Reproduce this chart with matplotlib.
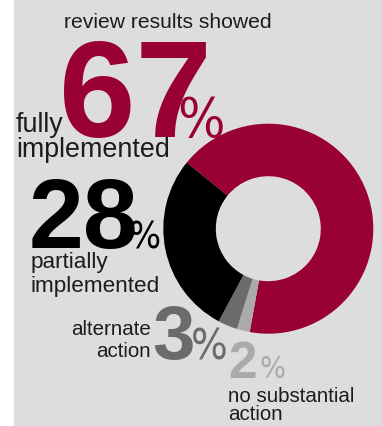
import matplotlib
matplotlib.use("Agg")
import matplotlib.pyplot as plt
from matplotlib import font_manager
from matplotlib.patches import Rectangle

# review outcome shares (percent)
categories = ["fully implemented", "no substantial action", "alternate action", "partially implemented"]
shares = [67, 2, 3, 28]
colors = ["#990033", "#aaaaaa", "#6b6b6b", "#000000"]

W, H = 382, 426
BG = "#dddddd"
INK = "#1c1c1c"
FONT = "Liberation Sans"

# a condensed face for the percent signs, if one is installed
cond = font_manager.FontProperties(family="DejaVu Sans", stretch="condensed")
HAS_COND = "Condensed" in font_manager.findfont(cond)
PCT = dict(family="DejaVu Sans", stretch="condensed") if HAS_COND else dict(family=FONT)

fig = plt.figure(figsize=(W / 100, H / 100), dpi=100)
fig.patch.set_facecolor("white")

# full-figure axes in pixel units for the text layout
ax = fig.add_axes([0, 0, 1, 1])
ax.set_xlim(0, W)
ax.set_ylim(H, 0)
ax.axis("off")
ax.add_patch(Rectangle((14, 0), W - 14, H, color=BG, zorder=0))

# donut
cx, cy, r = 268.3, 228.7, 105.0
pax = fig.add_axes([(cx - r) / W, (H - cy - r) / H, 2 * r / W, 2 * r / H])
pax.pie(shares, colors=colors, startangle=141, counterclock=False,
        wedgeprops=dict(width=0.5, linewidth=0))
pax.set_xlim(-1, 1)
pax.set_ylim(-1, 1)
pax.set_aspect("equal")
pax.axis("off")


def txt(x, y, s, size, color=INK, weight="normal", ha="left", **kw):
    font = dict(family=FONT)
    font.update(kw)
    ax.text(x, y, s, fontsize=size, color=color, fontweight=weight, ha=ha,
            va="baseline", **font)


def pct(x, y, size, color):
    txt(x, y, "%", size if HAS_COND else size * 0.78, color, **PCT)


txt(64, 28.3, "review results showed", 15.2)

# 67% fully implemented
txt(59, 136.7, str(shares[0]), 99, colors[0], "bold")
pct(177, 137, 40, colors[0])
txt(16, 131.7, "fully", 19.4)
txt(16, 156.7, "implemented", 19.4)

# 28% partially implemented
txt(29, 248.3, str(shares[3]), 71, colors[3], "bold")
pct(128, 248.3, 27, colors[3])
txt(30.5, 268.3, "partially", 16.2)
txt(30.5, 291.7, "implemented", 16.2)

# 3% alternate action
txt(151, 335, "alternate", 14.8, ha="right")
txt(151, 356.7, "action", 14.8, ha="right")
txt(152.5, 358.5, str(shares[2]), 55, colors[2], "bold")
pct(191, 359, 31, colors[2])

# 2% no substantial action
txt(228, 378, str(shares[1]), 37, colors[1], "bold")
pct(259.5, 378, 22, colors[1])
txt(228, 401.7, "no substantial", 14.8)
txt(228, 420, "action", 14.8)

fig.savefig("out.png", dpi=100, facecolor=fig.get_facecolor())
